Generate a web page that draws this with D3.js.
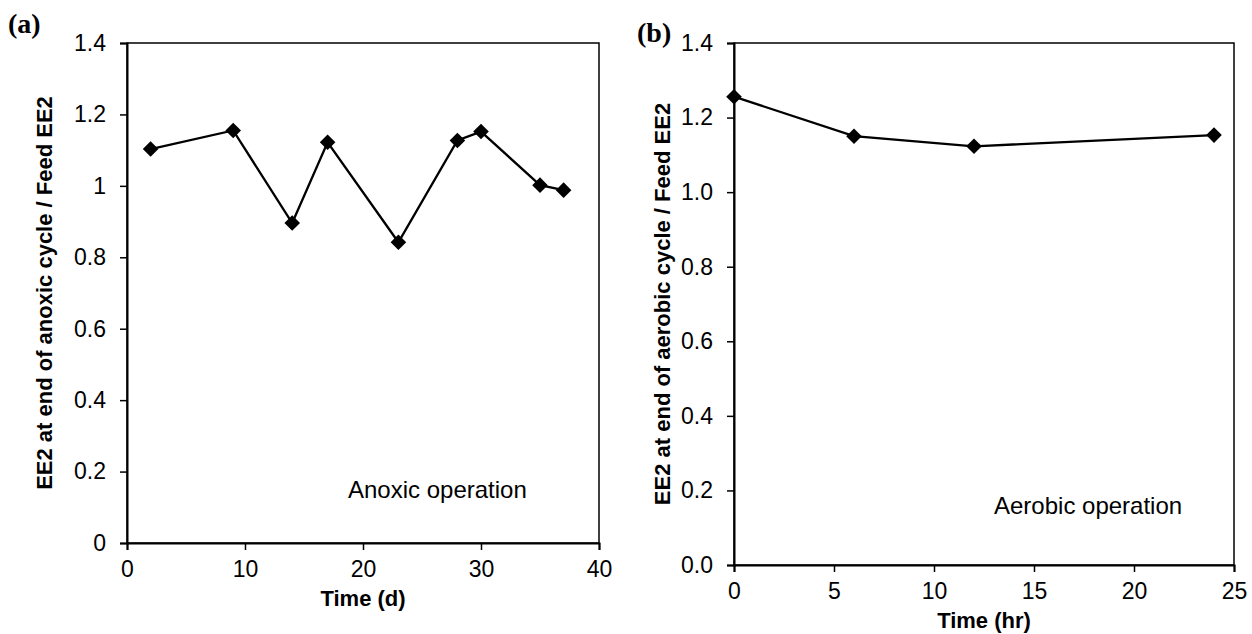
<!DOCTYPE html>
<html lang="en">
<head>
    <meta charset="UTF-8">
    <script src="https://d3js.org/d3.v7.min.js"></script>
    <style>
        body { margin: 0; background: #fff; }
        text { fill: #000; }
        .tick text { font-family: "Liberation Sans", Arial, sans-serif; font-size: 23px; }
        .title { font-family: "Liberation Sans", Arial, sans-serif; font-size: 22px; font-weight: bold; }
        .panel { font-family: "Liberation Serif", "Times New Roman", serif; font-size: 28px; font-weight: bold; }
        .note { font-family: "Liberation Sans", Arial, sans-serif; font-size: 24px; }
    </style>
    <title>EE2 ratio</title>
</head>
<body>
    <div id="chart"></div>
    <script>
        // panel (a): anoxic operation
        const anoxicDays = [2, 9, 14, 17, 23, 28, 30, 35, 37];
        const anoxicRatio = [1.103, 1.155, 0.896, 1.122, 0.842, 1.127, 1.152, 1.002, 0.988];
        const anoxicXTicks = [0, 10, 20, 30, 40];

        // panel (b): aerobic operation
        const aerobicHours = [0, 6, 12, 24];
        const aerobicRatio = [1.256, 1.150, 1.123, 1.153];
        const aerobicXTicks = [0, 5, 10, 15, 20, 25];

        const yTicks = [0, 0.2, 0.4, 0.6, 0.8, 1, 1.2, 1.4];

        var svg = d3.select("#chart")
            .append("svg")
            .attr("width", 1252)
            .attr("height", 634);

        function panel(opts) {
            var x = d3.scaleLinear().domain(opts.xDomain).range([opts.left, opts.right]);
            var y = d3.scaleLinear().domain([0, 1.4]).range([opts.bottom, opts.top]);

            var g = svg.append("g");

            // frame
            g.append("rect")
                .attr("x", opts.left)
                .attr("y", opts.top)
                .attr("width", opts.right - opts.left)
                .attr("height", opts.bottom - opts.top)
                .attr("fill", "none")
                .attr("stroke", "#000")
                .attr("stroke-width", 1.5);

            var xa = g.append("g")
                .attr("transform", "translate(0," + opts.bottom + ")")
                .call(d3.axisBottom(x).tickValues(opts.xTicks).tickSize(7).tickPadding(11).tickFormat(d3.format("d")));
            var ya = g.append("g")
                .attr("transform", "translate(" + opts.left + ",0)")
                .call(d3.axisLeft(y).tickValues(yTicks).tickSize(7).tickPadding(14).tickFormat(opts.yFormat));
            [xa, ya].forEach(function(a) {
                a.select(".domain").attr("stroke", "#000").attr("stroke-width", 2);
                a.selectAll(".tick line").attr("stroke", "#000").attr("stroke-width", 1.5);
                a.attr("font-size", null).attr("font-family", null);
            });

            var line = d3.line()
                .x(function(d) { return x(d[0]); })
                .y(function(d) { return y(d[1]); });
            var pts = d3.zip(opts.xs, opts.ys);

            g.append("path")
                .datum(pts)
                .attr("d", line)
                .attr("fill", "none")
                .attr("stroke", "#000")
                .attr("stroke-width", 2.3);

            g.selectAll(".pt")
                .data(pts)
                .enter().append("path")
                .attr("class", "pt")
                .attr("transform", function(d) { return "translate(" + x(d[0]) + "," + y(d[1]) + ")"; })
                .attr("d", d3.symbol().type(d3.symbolDiamond2).size(155))
                .attr("fill", "#000");

            g.append("text")
                .attr("class", "title")
                .attr("x", (opts.left + opts.right) / 2)
                .attr("y", opts.xTitleY)
                .attr("text-anchor", "middle")
                .text(opts.xTitle);

            g.append("text")
                .attr("class", "title")
                .attr("transform", "translate(" + opts.yTitleX + "," + (opts.top + opts.bottom) / 2 + ") rotate(-90)")
                .attr("text-anchor", "middle")
                .text(opts.yTitle);

            g.append("text")
                .attr("class", "panel")
                .attr("x", opts.labelX)
                .attr("y", opts.labelY)
                .text(opts.label);

            g.append("text")
                .attr("class", "note")
                .attr("x", opts.noteX)
                .attr("y", opts.noteY)
                .text(opts.note);
        }

        panel({
            left: 127, right: 599, top: 43, bottom: 543,
            xDomain: [0, 40], xTicks: anoxicXTicks,
            xs: anoxicDays, ys: anoxicRatio,
            yFormat: d3.format("~g"),
            xTitle: "Time (d)", xTitleY: 606,
            yTitle: "EE2 at end of anoxic cycle / Feed EE2",
            yTitleX: 52,
            label: "(a)", labelX: 8, labelY: 33,
            note: "Anoxic operation", noteX: 348, noteY: 498
        });

        panel({
            left: 734, right: 1234, top: 43, bottom: 565,
            xDomain: [0, 25], xTicks: aerobicXTicks,
            xs: aerobicHours, ys: aerobicRatio,
            yFormat: d3.format(".1f"),
            xTitle: "Time (hr)", xTitleY: 628,
            yTitle: "EE2 at end of aerobic cycle / Feed EE2",
            yTitleX: 670,
            label: "(b)", labelX: 637, labelY: 42,
            note: "Aerobic operation", noteX: 994, noteY: 514
        });
    </script>
</body>
</html>
